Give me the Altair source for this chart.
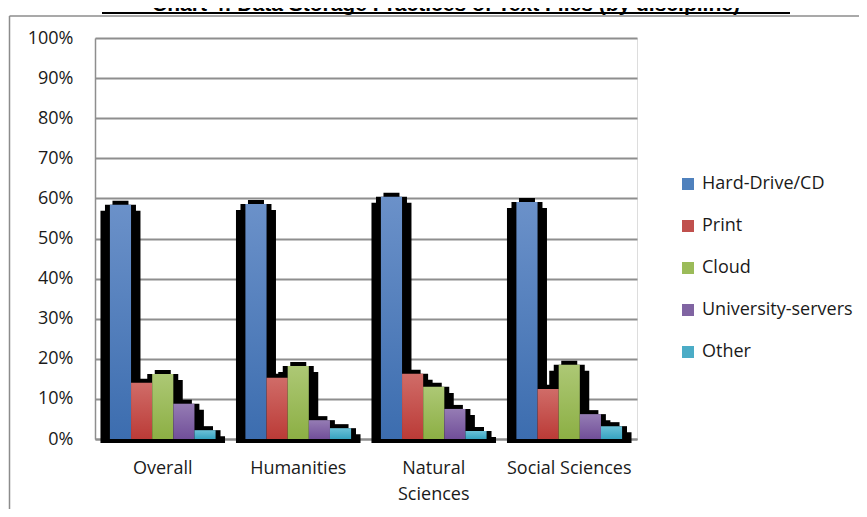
import altair as alt
import pandas as pd

categories = ["Overall", "Humanities", "Natural Sciences", "Social Sciences"]
series = ["Hard-Drive/CD", "Print", "Cloud", "University-servers", "Other"]
hard_drive = [58.4, 58.6, 60.4, 59.1]
print_vals = [14.0, 15.3, 16.3, 12.5]
cloud = [16.2, 18.2, 13.0, 18.5]
univ_servers = [8.8, 4.7, 7.5, 6.2]
other = [2.2, 2.7, 2.0, 3.2]
y_ticks = [0, 0.1, 0.2, 0.3, 0.4, 0.5, 0.6, 0.7, 0.8, 0.9, 1.0]
title_text = "Chart 4: Data Storage Practices of Text Files (by discipline)"

colors = ["#4F81BD", "#C0504D", "#9BBB59", "#8064A2", "#4BACC6"]
grad_top = ["#6B91C9", "#D06C68", "#ADC875", "#957CB4", "#6CC2D8"]
grad_bot = ["#3C6DAF", "#BB3B37", "#8CAF44", "#714F99", "#37A3C0"]

values_by_series = [hard_drive, print_vals, cloud, univ_servers, other]
rows = []
for s, vals in zip(series, values_by_series):
    for c, v in zip(categories, vals):
        rows.append({"category": c, "series": s, "value": v / 100.0})
df = pd.DataFrame(rows)

FONT = "Open Sans"
W, H = 542, 401

x_enc = alt.X("category:N", sort=categories, title=None,
              scale=alt.Scale(paddingInner=0.22, paddingOuter=0.11),
              axis=alt.Axis(labelAngle=0, ticks=False, tickSize=0, labelPadding=20,
                            labelFontSize=18, labelFont=FONT, labelColor="#1a1a1a",
                            domainColor="#8e8e8e", domainWidth=2, grid=False,
                            labelLineHeight=26,
                            labelExpr="datum.label == 'Natural Sciences' ? ['Natural', 'Sciences'] : datum.label"))
xoff_enc = alt.XOffset("series:N", sort=series,
                       scale=alt.Scale(domain=series, paddingInner=0, paddingOuter=0))
y_scale = alt.Scale(domain=[0, 1], nice=False, clamp=False)
y_axis = alt.Axis(values=y_ticks, format=".0%", ticks=False, tickSize=0, labelPadding=22,
                  labelFontSize=18, labelFont=FONT, labelColor="#1a1a1a",
                  domainColor="#8e8e8e", domainWidth=1.5,
                  grid=True, gridColor="#8e8e8e", gridWidth=2)

base = alt.Chart(df)

legend_layer = base.mark_square(opacity=0).encode(
    x=x_enc, xOffset=xoff_enc,
    y=alt.Y("value:Q", scale=y_scale, axis=y_axis, title=None),
    color=alt.Color("series:N", sort=series,
                    scale=alt.Scale(domain=series, range=colors),
                    legend=alt.Legend(title=None, orient="none", legendX=584, legendY=137,
                                      symbolType="square", symbolSize=144, symbolOpacity=1,
                                      symbolStrokeWidth=0, labelFont=FONT, labelFontSize=18,
                                      labelColor="#1a1a1a", rowPadding=24, padding=0,
                                      labelOffset=5, labelLimit=300)),
)

def black_layer(width, dy):
    return base.transform_calculate(
        top=f"datum.value + ({dy})", bottom="-0.01"
    ).mark_bar(color="black", width=width).encode(
        x=x_enc, xOffset=xoff_enc,
        y=alt.Y("top:Q", scale=y_scale),
        y2="bottom:Q",
    )

shadow_outer = black_layer(40, -0.015)
shadow_inner = black_layer(31, 0.0)
shadow_cap = black_layer(16, 0.01)

bar_layers = []
for s, t, b in zip(series, grad_top, grad_bot):
    grad = alt.Gradient(gradient="linear",
                        stops=[alt.GradientStop(color=t, offset=0),
                               alt.GradientStop(color=b, offset=1)],
                        x1=0, x2=0, y1=0, y2=1)
    bar_layers.append(
        base.transform_filter(alt.datum.series == s).mark_bar(fill=grad).encode(
            x=x_enc, xOffset=xoff_enc,
            y=alt.Y("value:Q", scale=y_scale),
        )
    )

deco = alt.Chart(alt.Data(values=[{}]))
title_mark = deco.mark_text(text=title_text, font="Liberation Sans", fontSize=21,
                            fontWeight="bold", baseline="alphabetic", align="center",
                            color="black").encode(x=alt.value(351), y=alt.value(-27))
underline = deco.mark_rule(color="black", strokeWidth=2).encode(
    x=alt.value(7), x2=alt.value(695), y=alt.value(-25))
border_top = deco.mark_rule(color="#8c8c8c", strokeWidth=1.5).encode(
    x=alt.value(-85.5), x2=alt.value(764), y=alt.value(-22))
border_left = deco.mark_rule(color="#8c8c8c", strokeWidth=1.5).encode(
    x=alt.value(-85.5), y=alt.value(-22), y2=alt.value(480))

chart = alt.layer(legend_layer, shadow_outer, shadow_inner, shadow_cap, *bar_layers,
                  title_mark, underline, border_top, border_left).properties(
    width=W, height=H,
    autosize=alt.AutoSizeParams(type="none"),
    padding={"left": 87, "top": 30, "right": 222, "bottom": 70},
).configure_view(stroke=None).configure(background="white")

chart.save("out.html", embed_options={"renderer": "svg", "actions": False})
